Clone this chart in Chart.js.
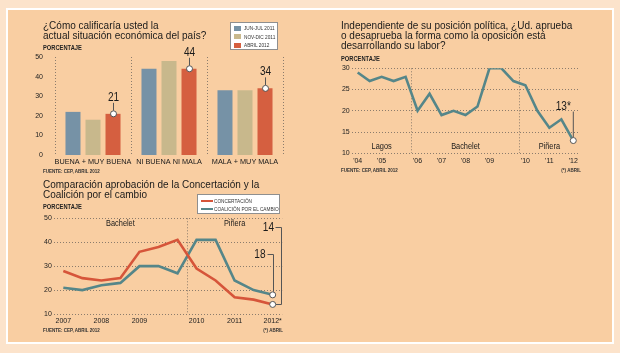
<!DOCTYPE html>
<html><head><meta charset="utf-8">
<script src="https://cdn.jsdelivr.net/npm/chart.js@4/dist/chart.umd.min.js"></script>
<style>
html,body{margin:0;padding:0;}
body{width:620px;height:353px;background:#fce3cb;position:relative;overflow:hidden;font-family:"Liberation Sans",Arial,sans-serif;color:#1e1e1e;}
#panel{position:absolute;left:6px;top:8px;width:604px;height:332px;border:2px solid #fff;background:#f9cea2;}
canvas{position:absolute;}
.t{position:absolute;white-space:nowrap;}
.title{font-size:10px;line-height:10px;color:#1a1a1a;}
.nar{transform:scaleX(0.82);transform-origin:0 50%;}
.narR{transform:scaleX(0.82);transform-origin:100% 50%;}
.pc{font-size:7px;line-height:7px;font-weight:bold;color:#222;}
.src{font-size:5.5px;line-height:6px;font-weight:bold;color:#333;}
.leg{position:absolute;background:#fff;border:1px solid #8f8f8f;box-sizing:border-box;}
.li{position:absolute;font-size:6px;line-height:6px;color:#333;white-space:nowrap;transform:scaleX(0.79);transform-origin:0 50%;}
.sw{position:absolute;}
</style>
</head><body>
<div id="panel"></div>
<canvas id="c1" width="305" height="175" style="left:0;top:0"></canvas>
<canvas id="c2" width="310" height="175" style="left:305px;top:0"></canvas>
<canvas id="c3" width="305" height="168" style="left:0;top:172px"></canvas>

<div class="t title" style="left:43px;top:20.5px">¿Cómo calificaría usted la<br>actual situación económica del país?</div>
<div class="t nar pc" style="left:43px;top:44px">PORCENTAJE</div>
<div class="t nar src" style="left:43px;top:168px">FUENTE: CEP, ABRIL 2012</div>
<div class="leg" style="left:230px;top:22px;width:48px;height:28px">
  <div class="sw" style="left:3px;top:2.5px;width:7px;height:5px;background:#7692a6"></div>
  <div class="li" style="left:13px;top:2px">JUN-JUL 2011</div>
  <div class="sw" style="left:3px;top:11px;width:7px;height:5px;background:#c8b88c"></div>
  <div class="li" style="left:13px;top:10.5px">NOV-DIC 2011</div>
  <div class="sw" style="left:3px;top:19.5px;width:7px;height:5px;background:#d55f40"></div>
  <div class="li" style="left:13px;top:19px">ABRIL 2012</div>
</div>

<div class="t title" style="left:341px;top:20.5px">Independiente de su posición política, ¿Ud. aprueba<br>o desaprueba la forma como la oposición está<br>desarrollando su labor?</div>
<div class="t nar pc" style="left:341px;top:54.5px">PORCENTAJE</div>
<div class="t nar src" style="left:341px;top:167px">FUENTE: CEP, ABRIL 2012</div>
<div class="t narR src" style="right:39px;top:167px">(*) ABRIL</div>

<div class="t title" style="left:43px;top:180px">Comparación aprobación de la Concertación y la<br>Coalición por el cambio</div>
<div class="t nar pc" style="left:43px;top:202.5px">PORCENTAJE</div>
<div class="t nar src" style="left:43px;top:327px">FUENTE: CEP, ABRIL 2012</div>
<div class="t narR src" style="right:337px;top:327px">(*) ABRIL</div>
<div class="leg" style="left:197px;top:194px;width:83px;height:19.5px">
  <div class="sw" style="left:3px;top:4.5px;width:12px;height:2px;background:#d6553a"></div>
  <div class="li" style="left:16px;top:2.5px">CONCERTACIÓN</div>
  <div class="sw" style="left:3px;top:12.5px;width:12px;height:2px;background:#558689"></div>
  <div class="li" style="left:16px;top:10.5px">COALICIÓN POR EL CAMBIO</div>
</div>

<script>
// ---------- DATA ----------
const barCategories = ["BUENA + MUY BUENA", "NI BUENA NI MALA", "MALA + MUY MALA"];
const barSeriesNames = ["JUN-JUL 2011", "NOV-DIC 2011", "ABRIL 2012"];
const junJul2011 = [22, 44, 33];
const novDic2011 = [18, 48, 33];
const abril2012 = [21, 44, 34];
const barTicks = [0, 10, 20, 30, 40, 50];

const oppTickLabels = ["'04","","'05","","","'06","","'07","","'08","","'09","","","'10","","'11","","'12"];
const oppValues = [29,27,28,27,28,20,24,19,20,19,21,30,30,27,26,20,16,18,13];
const oppEras = ["Lagos", "Bachelet", "Piñera"];
const oppEraRanges = [[0,4],[5,13],[14,18]];
const oppTicks = [10, 15, 20, 25, 30];
const oppLastLabel = "13*";

const compTickLabels = ["2007","","2008","","2009","","","2010","","2011","","2012*"];
const concertacion = [28,25,24,25,36,38,41,29,24,17,16,14];
const coalicion = [21,20,22,23,30,30,27,41,41,24,20,18];
const compEras = ["Bachelet", "Piñera"];
const compEraRanges = [[0,6],[7,11]];
const compTicks = [10, 20, 30, 40, 50];

// ---------- STYLE ----------
const REG = '"Liberation Sans",Arial,sans-serif';
const BLUE = '#7692a6', TAN = '#c8b88c', RED = '#d55f40';
const TEAL = '#558689', LRED = '#d6553a';
const GRID = '#8c7c6c';
Chart.defaults.font.family = REG;
Chart.defaults.color = '#222';
Chart.defaults.animation = false;

function dot(ctx, x, y) {
  ctx.beginPath(); ctx.arc(x, y, 3, 0, Math.PI * 2);
  ctx.fillStyle = '#fff'; ctx.fill();
  ctx.strokeStyle = '#555'; ctx.lineWidth = 1; ctx.stroke();
}
function narrowText(ctx, text, x, y, align, base, font, sx) {
  ctx.save();
  ctx.translate(x, y); ctx.scale(sx, 1);
  ctx.font = font; ctx.textAlign = align; ctx.textBaseline = base;
  ctx.fillText(text, 0, 0);
  ctx.restore();
}

// ---------- CHART 1 ----------
new Chart(document.getElementById('c1'), {
  type: 'bar',
  data: {
    labels: barCategories,
    datasets: [
      {label: barSeriesNames[0], data: junJul2011, backgroundColor: BLUE},
      {label: barSeriesNames[1], data: novDic2011, backgroundColor: TAN},
      {label: barSeriesNames[2], data: abril2012, backgroundColor: RED}
    ]
  },
  options: {
    responsive: false, devicePixelRatio: 1,
    categoryPercentage: 0.79, barPercentage: 0.75,
    layout: {padding: {left: 25, right: 22, top: 57, bottom: 8}},
    plugins: {legend: {display: false}, tooltip: {enabled: false}},
    scales: {
      x: {
        grid: {display: true, offset: true, color: GRID, lineWidth: 1, drawTicks: false},
        border: {display: false, dash: [1, 2]},
        ticks: {font: {size: 7.3}, padding: 3, maxRotation: 0, autoSkip: false, color: '#1a1a1a'},
        afterFit: s => { s.height = 12; }
      },
      y: {
        min: 0, max: 50,
        afterBuildTicks: s => { s.ticks = barTicks.map(v => ({value: v})); },
        grid: {display: false},
        border: {display: false},
        ticks: {font: {size: 7}, padding: 4},
        afterFit: s => { s.width = 30; }
      }
    }
  },
  plugins: [{
    id: 'ann1',
    afterDatasetsDraw(chart) {
      const ctx = chart.ctx;
      const meta = chart.getDatasetMeta(2);
      meta.data.forEach((bar, i) => {
        const x = Math.round(bar.x) + 0.5, y = bar.y;
        ctx.save();
        ctx.strokeStyle = '#555'; ctx.lineWidth = 1;
        ctx.beginPath(); ctx.moveTo(x, y - 3); ctx.lineTo(x, y - 11); ctx.stroke();
        dot(ctx, x, y);
        ctx.fillStyle = '#1a1a1a';
        narrowText(ctx, String(abril2012[i]), x, y - 13, 'center', 'alphabetic', '12px ' + REG, 0.84);
        ctx.restore();
      });
    }
  }]
});

// ---------- CHART 2 ----------
new Chart(document.getElementById('c2'), {
  type: 'line',
  data: {
    labels: oppTickLabels,
    datasets: [{data: oppValues, borderColor: TEAL, borderWidth: 2.6, pointRadius: 0, tension: 0, fill: false}]
  },
  options: {
    responsive: false, devicePixelRatio: 1,
    layout: {padding: {left: 16.7, right: 35.7, top: 68.3, bottom: 9.7}},
    plugins: {legend: {display: false}, tooltip: {enabled: false}},
    scales: {
      x: {
        offset: true,
        grid: {display: true, offset: true, drawTicks: false, lineWidth: 1,
               color: c => (c.index === 5 || c.index === 14) ? GRID : 'rgba(0,0,0,0)'},
        border: {display: false, dash: [1, 2]},
        ticks: {font: {size: 7}, padding: 4, maxRotation: 0, autoSkip: false},
        afterFit: s => { s.height = 12; }
      },
      y: {
        min: 10, max: 30,
        afterBuildTicks: s => { s.ticks = oppTicks.map(v => ({value: v})); },
        grid: {color: GRID, drawTicks: false, lineWidth: 1},
        border: {display: false, dash: [1, 2]},
        ticks: {font: {size: 7}, padding: 2},
        afterFit: s => { s.width = 30; }
      }
    }
  },
  plugins: [{
    id: 'ann2',
    afterDatasetsDraw(chart) {
      const ctx = chart.ctx, ca = chart.chartArea, xs = chart.scales.x;
      ctx.save();
      ctx.fillStyle = '#1a1a1a';
      oppEraRanges.forEach((r, i) => {
        const x = (xs.getPixelForValue(r[0]) + xs.getPixelForValue(r[1])) / 2;
        narrowText(ctx, oppEras[i], x, ca.bottom - 6.3, 'center', 'middle', '9px ' + REG, 0.82);
      });
      const meta = chart.getDatasetMeta(0);
      const p = meta.data[meta.data.length - 1];
      ctx.strokeStyle = '#555'; ctx.lineWidth = 1;
      ctx.beginPath(); ctx.moveTo(p.x, p.y - 29); ctx.lineTo(p.x, p.y - 3); ctx.stroke();
      dot(ctx, p.x, p.y);
      ctx.fillStyle = '#1a1a1a';
      narrowText(ctx, oppLastLabel, p.x - 2.5, p.y - 31, 'right', 'alphabetic', '12px ' + REG, 0.84);
      ctx.restore();
    }
  }]
});

// ---------- CHART 3 ----------
new Chart(document.getElementById('c3'), {
  type: 'line',
  data: {
    labels: compTickLabels,
    datasets: [
      {label: 'CONCERTACIÓN', data: concertacion, borderColor: LRED, borderWidth: 2.6, pointRadius: 0, tension: 0},
      {label: 'COALICIÓN POR EL CAMBIO', data: coalicion, borderColor: TEAL, borderWidth: 2.6, pointRadius: 0, tension: 0}
    ]
  },
  options: {
    responsive: false, devicePixelRatio: 1,
    layout: {padding: {left: 23.8, right: 22.8, top: 46.3, bottom: 14}},
    plugins: {legend: {display: false}, tooltip: {enabled: false}},
    scales: {
      x: {
        offset: true,
        grid: {display: true, offset: true, drawTicks: false, lineWidth: 1,
               color: c => (c.index === 7) ? GRID : 'rgba(0,0,0,0)'},
        border: {display: false, dash: [1, 2]},
        ticks: {font: {size: 7}, padding: 3, maxRotation: 0, autoSkip: false},
        afterFit: s => { s.height = 12; }
      },
      y: {
        min: 10, max: 50,
        afterBuildTicks: s => { s.ticks = compTicks.map(v => ({value: v})); },
        grid: {color: GRID, drawTicks: false, lineWidth: 1},
        border: {display: false, dash: [1, 2]},
        ticks: {font: {size: 7}, padding: 2},
        afterFit: s => { s.width = 30; }
      }
    }
  },
  plugins: [{
    id: 'ann3',
    afterDatasetsDraw(chart) {
      const ctx = chart.ctx, ca = chart.chartArea, xs = chart.scales.x;
      ctx.save();
      ctx.fillStyle = '#1a1a1a';
      compEraRanges.forEach((r, i) => {
        const x = (xs.getPixelForValue(r[0]) + xs.getPixelForValue(r[1])) / 2;
        narrowText(ctx, compEras[i], x, ca.top + 5.7, 'center', 'middle', '9px ' + REG, 0.82);
      });
      const last = compTickLabels.length - 1;
      const pR = chart.getDatasetMeta(0).data[last];
      const pT = chart.getDatasetMeta(1).data[last];
      ctx.strokeStyle = '#555'; ctx.lineWidth = 1;
      const y18 = Math.round(pT.y - 41) + 0.5;
      const x18 = Math.round(pT.x) + 0.5;
      ctx.beginPath(); ctx.moveTo(x18 - 6, y18); ctx.lineTo(x18, y18); ctx.lineTo(x18, pT.y - 3); ctx.stroke();
      const xb = Math.round(pR.x + 8) + 0.5;
      const y14 = Math.round(ca.top + 8.7) + 0.5;
      const yr = Math.round(pR.y) + 0.5;
      ctx.beginPath(); ctx.moveTo(xb - 6, y14); ctx.lineTo(xb, y14); ctx.lineTo(xb, yr); ctx.lineTo(pR.x + 3, yr); ctx.stroke();
      dot(ctx, pR.x, pR.y);
      dot(ctx, pT.x, pT.y);
      ctx.fillStyle = '#1a1a1a';
      narrowText(ctx, String(coalicion[last]), x18 - 8, y18, 'right', 'middle', '12px ' + REG, 0.84);
      narrowText(ctx, String(concertacion[last]), xb - 7.5, y14, 'right', 'middle', '12px ' + REG, 0.84);
      ctx.restore();
    }
  }]
});
</script>
</body></html>
